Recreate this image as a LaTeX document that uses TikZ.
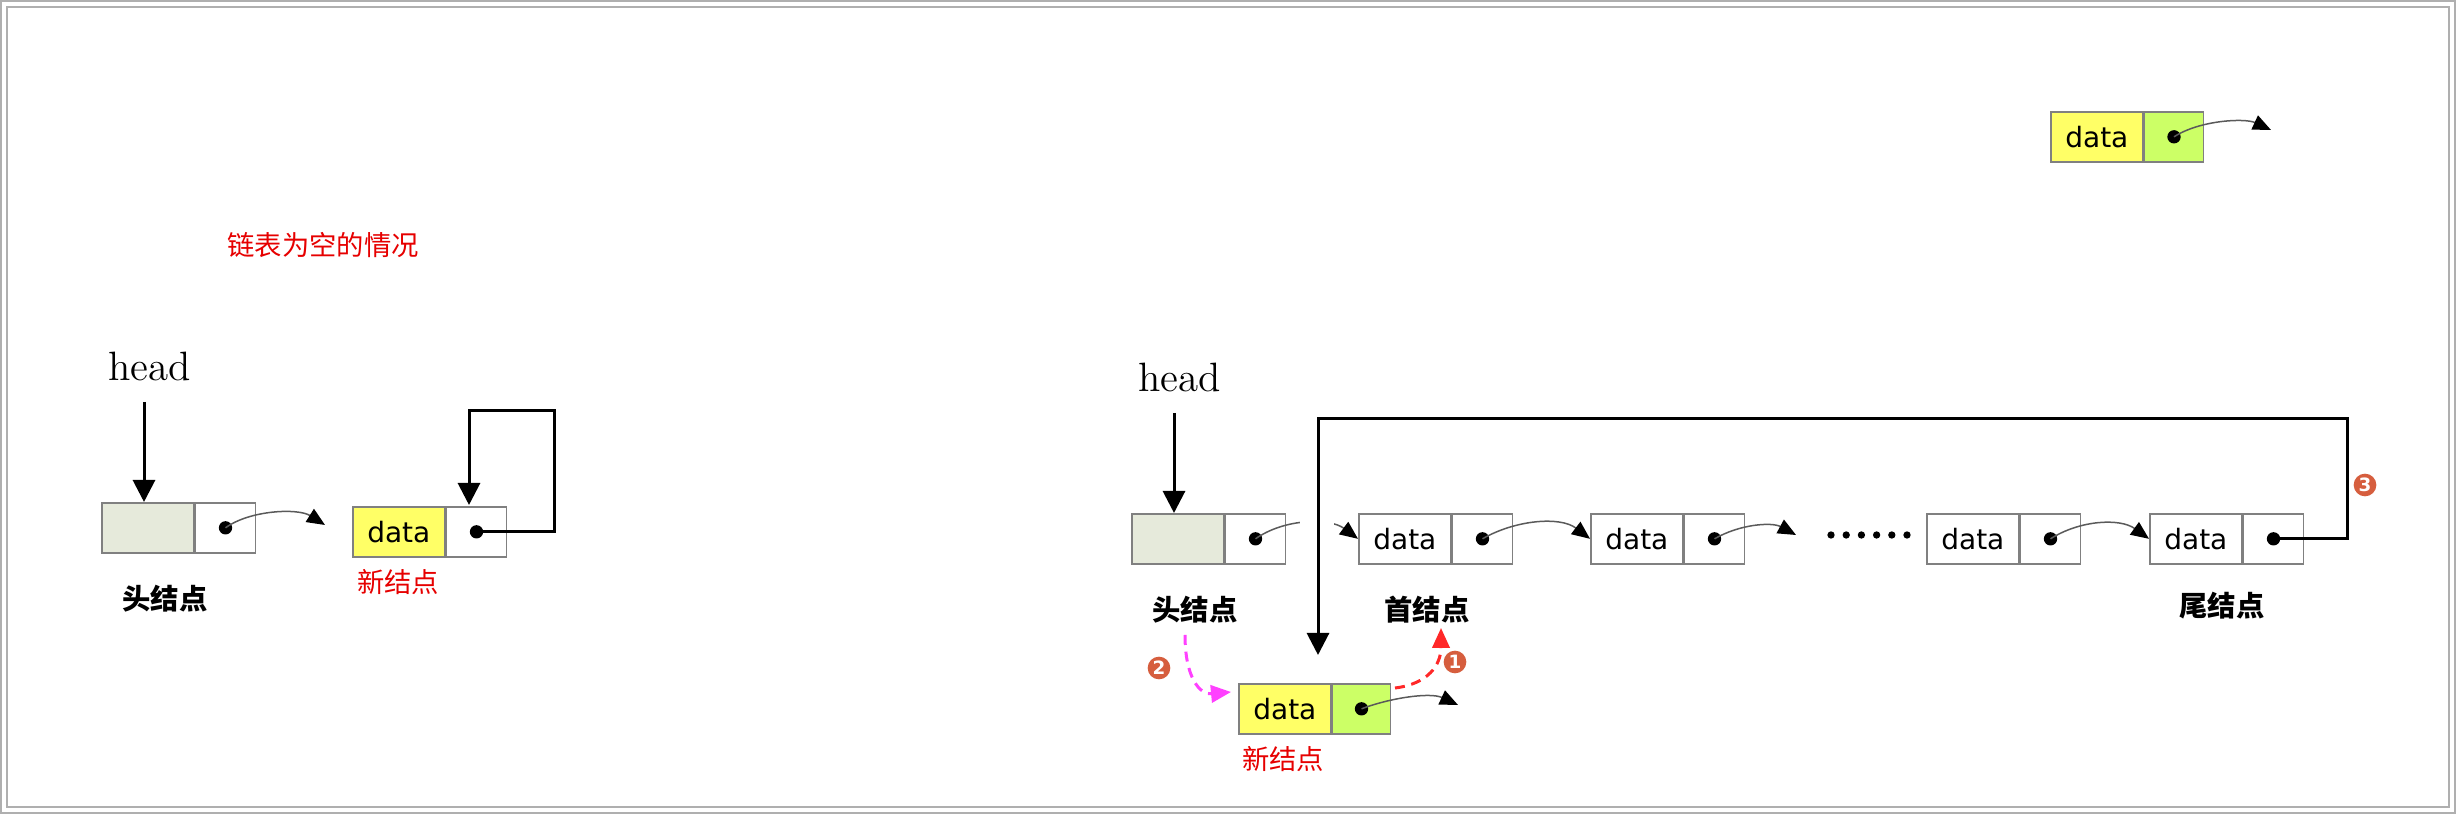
\documentclass[tikz,border=0pt]{standalone}
\usepackage{fontspec}
\usetikzlibrary{arrows.meta,calc}
\newfontfamily\dejavu{DejaVu Sans}
\newfontfamily\cjk{Noto Sans CJK SC}
\definecolor{cellgray}{RGB}{128,128,128}
\definecolor{headfill}{RGB}{230,234,219}
\definecolor{ylw}{RGB}{255,255,102}
\definecolor{grn}{RGB}{204,255,102}
\definecolor{numc}{RGB}{214,94,62}
\definecolor{txtred}{RGB}{230,0,0}
\definecolor{mag}{RGB}{255,64,255}
\definecolor{dashred}{RGB}{255,40,40}
\definecolor{framec}{RGB}{175,175,175}
\definecolor{curvec}{RGB}{90,90,90}
\begin{document}
\begin{tikzpicture}[x=0.3pt,y=-0.3pt,
 cellA/.style={draw=cellgray,line width=0.5pt,minimum height=15pt,minimum width=27.6pt,inner sep=0pt,anchor=north west,font=\dejavu\fontsize{8.4}{9}\selectfont},
 cellB/.style={draw=cellgray,line width=0.5pt,minimum height=15pt,minimum width=18pt,inner sep=0pt,anchor=north west},
 lab/.style={font=\cjk\bfseries\fontsize{8.5}{10}\selectfont,inner sep=0pt},
 redlab/.style={font=\cjk\fontsize{8.2}{9}\selectfont,text=txtred,inner sep=0pt},
 headlab/.style={font=\fontsize{12.3}{14}\selectfont,inner sep=0pt},
 ptr/.style={draw=black,line width=0.9pt},
 bigtip/.style={-{Triangle[length=6.6pt,width=6.6pt]}},
 nextarrow/.style={draw=curvec,line width=0.45pt,-{Triangle[length=5.4pt,width=4.6pt,color=black]}},
 num/.style={circle,fill=numc,text=white,minimum size=6.8pt,inner sep=0pt,font=\dejavu\bfseries\fontsize{5.5}{5.5}\selectfont},
 dashmag/.style={draw=mag,line width=0.9pt,dash pattern=on 3pt off 2pt,-{Triangle[length=6pt,width=5.2pt]}},
 dashred/.style={draw=dashred,line width=0.9pt,dash pattern=on 3pt off 2pt,-{Triangle[length=6pt,width=5.2pt]}}
]
\useasboundingbox (0,0) rectangle (2461,819);
% frame
\draw[framec,line width=0.6pt] (1,1) rectangle (2455,813);
\draw[framec,line width=0.6pt] (7,7) rectangle (2449,807);

% ===== left: empty list =====
\node[redlab] (title) at (323,245) {链表为空的情况};
\node[headlab] (headL) at (149.5,366) {head};
\coordinate (ha1) at (144,402);
\node[cellA,fill=headfill] (h1d) at (101,502) {};
\node[cellB] (h1p) at (h1d.north east) {};
\fill (h1p.center) circle (2pt);
\draw[ptr,bigtip] (ha1) -- (ha1 |- h1d.north);
\coordinate (e1) at (325,525);
\draw[nextarrow] (h1p.center) .. controls (250,510) and (298,508) .. (e1);
\node[lab] (hl1) at (165,599) {头结点};

\node[cellA,fill=ylw] (n1d) at (352,506) {data};
\node[cellB] (n1p) at (n1d.north east) {};
\fill (n1p.center) circle (2pt);
\coordinate (lp1) at (554,411);
\coordinate (lp2) at (469,505);
\draw[ptr,bigtip] (n1p.center) -| (lp1) -| (lp2);
\node[redlab] (nl1) at (398,582) {新结点};

% ===== right: insert =====
\node[headlab] (headR) at (1179.5,377) {head};
\coordinate (ha2) at (1174,413);
\node[cellA,fill=headfill] (h2d) at (1131,513) {};
\node[cellB] (h2p) at (h2d.north east) {};
\fill (h2p.center) circle (2pt);
\draw[ptr,bigtip] (ha2) -- (ha2 |- h2d.north);

\node[cellA] (a1d) at (1358,513) {data};
\node[cellB] (a1p) at (a1d.north east) {};
\fill (a1p.center) circle (2pt);
\node[cellA] (a2d) at (1590,513) {data};
\node[cellB] (a2p) at (a2d.north east) {};
\fill (a2p.center) circle (2pt);
\node[cellA] (a3d) at (1926,513) {data};
\node[cellB] (a3p) at (a3d.north east) {};
\fill (a3p.center) circle (2pt);
\node[cellA] (a4d) at (2149,513) {data};
\node[cellB] (a4p) at (a4d.north east) {};
\fill (a4p.center) circle (2pt);

\draw[nextarrow] (h2p.center) .. controls (1285,518) and (1330,518) .. (a1d.west);
\fill[white] (1300,510) rectangle (1334,534);
\draw[nextarrow] (a1p.center) .. controls (1515,520) and (1560,516) .. (a2d.west);
\coordinate (e2) at (1796,535);
\draw[nextarrow] (a2p.center) .. controls (1740,524) and (1772,522) .. (e2);
\foreach \i in {0,...,5} \fill (1831+15.2*\i,535) circle (1.1pt);
\draw[nextarrow] (a3p.center) .. controls (2080,520) and (2120,518) .. (a4d.west);

\coordinate (lp3) at (2347,419);
\coordinate (lp4) at (1318,655);
\draw[ptr,bigtip] (a4p.center) -| (lp3) -| (lp4);
\node[num] (c3) at (2365,485) {3};

\node[lab] (hl2) at (1195,610) {头结点};
\node[lab] (fl) at (1427,610) {首结点};
\node[lab] (tl) at (2222,606) {尾结点};

% new node (bottom)
\node[cellA,fill=ylw] (n2d) at (1238,683) {data};
\node[cellB,fill=grn,minimum width=17.4pt] (n2p) at (n2d.north east) {};
\fill (n2p.center) circle (2pt);
\coordinate (e3) at (1458,705);
\draw[nextarrow] (n2p.center) .. controls (1390,698) and (1430,692) .. (e3);
\node[redlab] (nl2) at (1283,759) {新结点};

\coordinate (m0) at (1185,635);
\coordinate (m1) at (1231,692);
\draw[dashmag] (m0) .. controls (1185,678) and (1200,695) .. (m1);
\coordinate (r0) at (1395,688);
\coordinate (r1) at (1441,628);
\draw[dashred] (r0) .. controls (1428,684) and (1441,665) .. (r1);
\node[num] (c1) at (1455,662) {1};
\node[num] (c2) at (1159,668) {2};

% new node (top right)
\node[cellA,fill=ylw] (n3d) at (2050,111) {data};
\node[cellB,fill=grn,minimum width=17.7pt] (n3p) at (n3d.north east) {};
\fill (n3p.center) circle (2pt);
\coordinate (e4) at (2271,130);
\draw[nextarrow] (n3p.center) .. controls (2200,120) and (2245,118) .. (e4);
\end{tikzpicture}
\end{document}
